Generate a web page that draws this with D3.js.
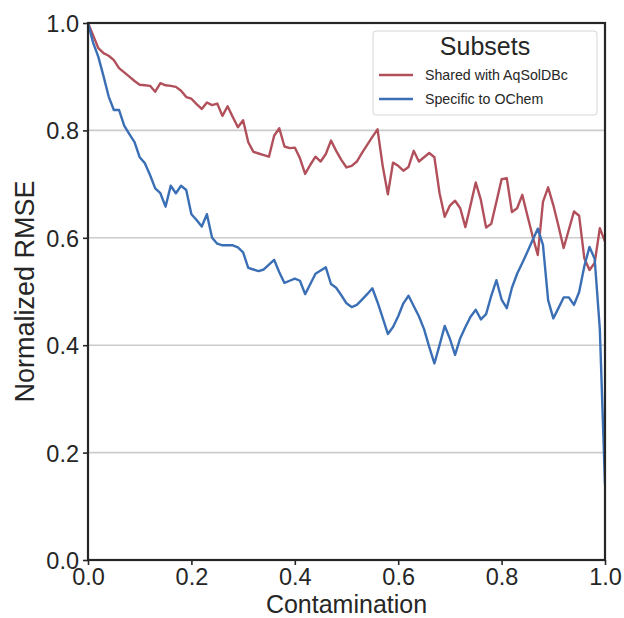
<!DOCTYPE html>
<html>
<head>
<meta charset="utf-8">
<script src="https://cdn.jsdelivr.net/npm/d3@7"></script>
<style>
  html, body { margin: 0; padding: 0; background: #fff; }
  svg { display: block; font-family: "Liberation Sans", Arial, sans-serif; }
</style>
</head>
<body>
<svg id="chart" width="624" height="618"></svg>
<script>
// Contamination fraction, 0.00 .. 1.00 in steps of 0.01
const contamination = d3.range(101).map(i => i / 100);

const sharedRMSE = [
  1.000, 0.977, 0.953, 0.944, 0.939, 0.931, 0.916, 0.908, 0.900, 0.892,
  0.885, 0.884, 0.883, 0.872, 0.888, 0.884, 0.883, 0.881, 0.874, 0.862,
  0.859, 0.849, 0.840, 0.852, 0.847, 0.850, 0.827, 0.845, 0.825, 0.806,
  0.819, 0.778, 0.760, 0.757, 0.754, 0.751, 0.790, 0.804, 0.770, 0.767,
  0.768, 0.748, 0.719, 0.736, 0.751, 0.742, 0.756, 0.781, 0.762, 0.745,
  0.731, 0.734, 0.742, 0.758, 0.773, 0.788, 0.802, 0.734, 0.681, 0.740,
  0.734, 0.725, 0.732, 0.762, 0.742, 0.750, 0.758, 0.750, 0.683, 0.639,
  0.660, 0.669, 0.655, 0.620, 0.661, 0.703, 0.670, 0.619, 0.626, 0.667,
  0.709, 0.711, 0.648, 0.655, 0.680, 0.641, 0.603, 0.568, 0.667, 0.694,
  0.661, 0.622, 0.581, 0.615, 0.649, 0.641, 0.562, 0.540, 0.553, 0.618,
  0.593
];

const specificRMSE = [
  1.000, 0.963, 0.937, 0.901, 0.863, 0.838, 0.838, 0.809, 0.793, 0.778,
  0.750, 0.739, 0.717, 0.692, 0.683, 0.658, 0.697, 0.683, 0.697, 0.689,
  0.644, 0.633, 0.621, 0.644, 0.600, 0.589, 0.586, 0.586, 0.586, 0.582,
  0.573, 0.544, 0.541, 0.538, 0.541, 0.550, 0.559, 0.536, 0.516, 0.520,
  0.524, 0.520, 0.495, 0.514, 0.533, 0.539, 0.545, 0.514, 0.507, 0.493,
  0.478, 0.471, 0.475, 0.485, 0.495, 0.506, 0.480, 0.451, 0.421, 0.434,
  0.454, 0.478, 0.492, 0.473, 0.454, 0.430, 0.397, 0.366, 0.400, 0.436,
  0.412, 0.382, 0.413, 0.434, 0.453, 0.466, 0.448, 0.458, 0.492, 0.521,
  0.485, 0.469, 0.507, 0.533, 0.553, 0.574, 0.596, 0.617, 0.587, 0.484,
  0.450, 0.469, 0.489, 0.489, 0.475, 0.499, 0.547, 0.583, 0.561, 0.430,
  0.140
];

const seriesNames = ["Shared with AqSolDBc", "Specific to OChem"];
const seriesColors = ["#b1505b", "#3b6fb5"];
const legendTitle = "Subsets";
const xTicks = [0, 0.2, 0.4, 0.6, 0.8, 1.0];
const yTicks = [0, 0.2, 0.4, 0.6, 0.8, 1.0];
const xLabel = "Contamination";
const yLabel = "Normalized RMSE";

const svg = d3.select("#chart");
const margin = { left: 88, right: 19, top: 23, bottom: 58 };
const W = 624, H = 618;
const plotW = W - margin.left - margin.right;
const plotH = H - margin.top - margin.bottom;

const x = d3.scaleLinear().domain([0, 1]).range([margin.left, margin.left + plotW]);
const y = d3.scaleLinear().domain([0, 1]).range([margin.top + plotH, margin.top]);

// horizontal grid
svg.append("g")
  .selectAll("line")
  .data(yTicks)
  .join("line")
  .attr("x1", margin.left).attr("x2", margin.left + plotW)
  .attr("y1", d => y(d)).attr("y2", d => y(d))
  .attr("stroke", "#cccccc").attr("stroke-width", 1.6);

// series lines
const series = [sharedRMSE, specificRMSE];
const line = d3.line()
  .x((d, i) => x(contamination[i]))
  .y(d => y(d));

svg.append("clipPath").attr("id", "plotclip")
  .append("rect")
  .attr("x", margin.left).attr("y", margin.top - 2)
  .attr("width", plotW).attr("height", plotH + 4);

svg.append("g").attr("clip-path", "url(#plotclip)")
  .selectAll("path")
  .data(series)
  .join("path")
  .attr("d", d => line(d))
  .attr("fill", "none")
  .attr("stroke", (d, i) => seriesColors[i])
  .attr("stroke-width", 2.4)
  .attr("stroke-linejoin", "round")
  .attr("stroke-linecap", "round");

// axes
const axisColor = "#262626";
const xAxis = svg.append("g")
  .attr("transform", `translate(0,${margin.top + plotH})`)
  .call(d3.axisBottom(x).tickValues(xTicks).tickFormat(d3.format(".1f")).tickSize(5).tickPadding(3));
const yAxis = svg.append("g")
  .attr("transform", `translate(${margin.left},0)`)
  .call(d3.axisLeft(y).tickValues(yTicks).tickFormat(d3.format(".1f")).tickSize(5).tickPadding(4));

[xAxis, yAxis].forEach(g => {
  g.select(".domain").remove();
  g.selectAll(".tick line").attr("stroke", axisColor).attr("stroke-width", 1.6);
  g.selectAll(".tick text")
    .attr("fill", axisColor)
    .style("font-size", "23.5px")
    .style("font-family", "'Liberation Sans', Arial, sans-serif");
});
yAxis.selectAll(".tick text").attr("dy", "0.36em");

// frame
svg.append("rect")
  .attr("x", margin.left).attr("y", margin.top)
  .attr("width", plotW).attr("height", plotH)
  .attr("fill", "none").attr("stroke", axisColor).attr("stroke-width", 2.2);

// axis labels
svg.append("text")
  .attr("x", margin.left + plotW / 2).attr("y", 612.5)
  .attr("text-anchor", "middle")
  .attr("fill", axisColor)
  .style("font-size", "25px")
  .text(xLabel);

svg.append("text")
  .attr("transform", `translate(34,${margin.top + plotH / 2}) rotate(-90)`)
  .attr("text-anchor", "middle")
  .attr("fill", axisColor)
  .style("font-size", "27px")
  .text(yLabel);

// legend
const lg = svg.append("g").attr("transform", "translate(373,31)");
lg.append("rect")
  .attr("width", 224).attr("height", 84)
  .attr("rx", 3).attr("ry", 3)
  .attr("fill", "#ffffff").attr("fill-opacity", 0.85)
  .attr("stroke", "#d6d6d6").attr("stroke-width", 1);
lg.append("text")
  .attr("x", 112).attr("y", 24)
  .attr("text-anchor", "middle")
  .attr("fill", axisColor)
  .style("font-size", "25px")
  .text(legendTitle);
const entries = lg.selectAll("g.entry")
  .data(seriesNames)
  .join("g").attr("class", "entry")
  .attr("transform", (d, i) => `translate(0,${44 + i * 24})`);
entries.append("line")
  .attr("x1", 6).attr("x2", 40)
  .attr("stroke", (d, i) => seriesColors[i])
  .attr("stroke-width", 2.4);
entries.append("text")
  .attr("x", 52).attr("dy", "0.35em")
  .attr("fill", axisColor)
  .style("font-size", "14.2px")
  .text(d => d);
</script>
</body>
</html>
